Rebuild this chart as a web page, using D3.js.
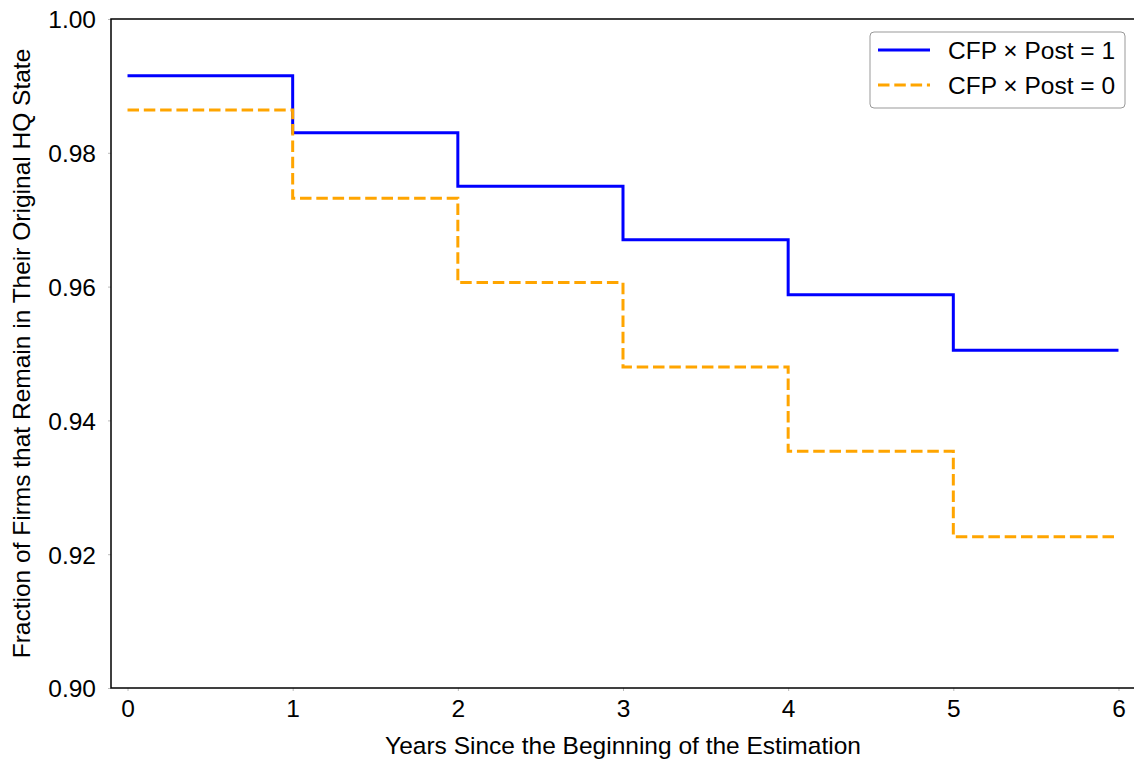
<!DOCTYPE html>
<html>
<head>
<meta charset="utf-8">
<script src="https://cdn.jsdelivr.net/npm/d3@7"></script>
<style>
html,body{margin:0;padding:0;background:#fff;}
svg{display:block;}
text{font-family:"Liberation Sans",Arial,Helvetica,sans-serif;fill:#000;}
</style>
</head>
<body>
<svg id="chart" width="1134" height="762"></svg>
<script>
const years = [0, 1, 2, 3, 4, 5, 6];
const seriesTreated = [0.9915, 0.983, 0.975, 0.967, 0.9588, 0.9505, 0.9505];
const seriesControl = [0.9864, 0.9732, 0.9606, 0.948, 0.9354, 0.9226, 0.9226];
const seriesNames = ["CFP \u00d7 Post = 1", "CFP \u00d7 Post = 0"];
const yTicks = [0.90, 0.92, 0.94, 0.96, 0.98, 1.00];
const xTicks = [0, 1, 2, 3, 4, 5, 6];
const xLabel = "Years Since the Beginning of the Estimation";
const yLabel = "Fraction of Firms that Remain in Their Original HQ State";

(function () {
const svg = d3.select("#chart");
const mL = 111, mR = 1135, mT = 19, mB = 688;
const fs = 24.5;
const lw = 3;
const dash = "11.5,4.8";

const x = d3.scaleLinear().domain([-0.1, 6.1]).range([mL, mR]);
const y = d3.scaleLinear().domain([0.90, 1.00]).range([mB, mT]);

// axes
const xAxis = svg.append("g").attr("transform", `translate(0,${mB})`)
  .call(d3.axisBottom(x).tickValues(xTicks).tickFormat(d3.format("d")).tickSize(3).tickPadding(9));
const yAxis = svg.append("g").attr("transform", `translate(${mL},0)`)
  .call(d3.axisLeft(y).tickValues(yTicks).tickFormat(d3.format(".2f")).tickSize(3).tickPadding(12));
[xAxis, yAxis].forEach(a => {
  a.select(".domain").remove();
  a.selectAll(".tick line").attr("stroke", "#bbb").attr("stroke-width", 1);
  a.selectAll(".tick text").style("font-size", fs + "px").style("font-family", '"Liberation Sans",Arial,sans-serif').attr("fill", "#000");
});
yAxis.selectAll(".tick text").attr("dy", "0.36em");

// spines
svg.append("rect").attr("x", mL).attr("y", mT).attr("width", mR - mL).attr("height", mB - mT)
  .attr("fill", "none").attr("stroke", "#000").attr("stroke-width", 1.5);

// lines
const line = d3.line().x(d => x(d[0])).y(d => y(d[1])).curve(d3.curveStepAfter);
const dataT = years.map((yr, i) => [yr, seriesTreated[i]]);
const dataC = years.map((yr, i) => [yr, seriesControl[i]]);

svg.append("path").datum(dataT).attr("d", line).attr("fill", "none")
  .attr("stroke", "#0000ff").attr("stroke-width", lw);
svg.append("path").datum(dataC).attr("d", line).attr("fill", "none")
  .attr("stroke", "#ffa500").attr("stroke-width", lw).attr("stroke-dasharray", dash);

// labels
svg.append("text").attr("x", (mL + mR) / 2).attr("y", 754).attr("text-anchor", "middle")
  .style("font-size", fs + "px").text(xLabel);
svg.append("text").attr("transform", `translate(30,${(mT + mB) / 2}) rotate(-90)`)
  .attr("text-anchor", "middle").style("font-size", fs + "px").text(yLabel);

// legend
const lg = svg.append("g");
lg.append("rect").attr("x", 870).attr("y", 32).attr("width", 255).attr("height", 76).attr("rx", 4)
  .attr("fill", "#fff").attr("fill-opacity", 0.8).attr("stroke", "#999").attr("stroke-width", 1);
const legendItems = [
  {name: seriesNames[0], color: "#0000ff", dash: null, yy: 50},
  {name: seriesNames[1], color: "#ffa500", dash: dash, yy: 85}
];
legendItems.forEach(it => {
  lg.append("line").attr("x1", 878).attr("x2", 930).attr("y1", it.yy).attr("y2", it.yy)
    .attr("stroke", it.color).attr("stroke-width", lw).attr("stroke-dasharray", it.dash);
  lg.append("text").attr("x", 948).attr("y", it.yy + 9).style("font-size", fs + "px").text(it.name);
});
})();
</script>
</body>
</html>
